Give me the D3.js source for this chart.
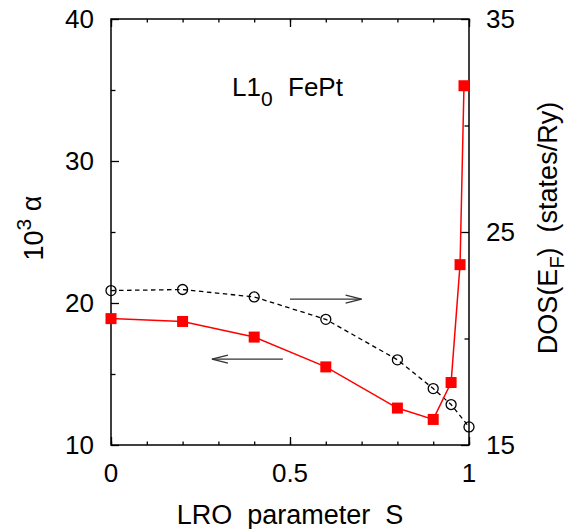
<!DOCTYPE html>
<html>
<head>
<meta charset="utf-8">
<script src="https://cdn.jsdelivr.net/npm/d3@7"></script>
<style>
  body { margin: 0; background: #fff; }
  svg { display: block; font-family: "Liberation Sans", Arial, sans-serif; }
</style>
</head>
<body>
<div id="chart"><svg width="570" height="529"></svg></div>
<script>
// data
const sAlpha = [0, 0.2, 0.4, 0.6, 0.8, 0.9, 0.95, 0.975, 0.986];
const alpha = [18.9, 18.7, 17.6, 15.5, 12.6, 11.8, 14.4, 22.7, 35.3];
const sDos = [0, 0.2, 0.4, 0.6, 0.8, 0.9, 0.95, 1];
const dos = [22.25, 22.3, 21.95, 20.9, 19.0, 17.65, 16.9, 15.85];

const xTicks = [0, 0.5, 1];
const yLeftTicks = [10, 20, 30, 40];
const yRightTicks = [15, 25, 35];

const svg = d3.select('#chart svg');

const L = 111, R = 469, T = 19, B = 445;

// scales
const scaleX = d3.scaleLinear().domain([0, 1]).range([L, R]);
const scaleYL = d3.scaleLinear().domain([10, 40]).range([B, T]);
const scaleYR = d3.scaleLinear().domain([15, 35]).range([B, T]);

const TICK_FONT = 26;
const TITLE_FONT = 27;

function styleAxis(g) {
  g.select('.domain').remove();
  g.selectAll('line').attr('stroke', '#000').attr('stroke-width', 1.3);
}

// bottom axis (minor + major)
svg.append('g')
  .attr('transform', `translate(0,${B})`)
  .call(d3.axisBottom(scaleX).tickValues(d3.range(0, 1.01, 0.1)).tickSize(-3.5).tickFormat(''))
  .call(styleAxis);
svg.append('g')
  .attr('transform', `translate(0,${B})`)
  .call(d3.axisBottom(scaleX).tickValues(xTicks).tickSize(-8).tickFormat(''))
  .call(styleAxis);

// top axis mirror ticks
svg.append('g')
  .attr('transform', `translate(0,${T})`)
  .call(d3.axisTop(scaleX).tickValues(d3.range(0, 1.01, 0.1)).tickSize(-3.5).tickFormat(''))
  .call(styleAxis);
svg.append('g')
  .attr('transform', `translate(0,${T})`)
  .call(d3.axisTop(scaleX).tickValues(xTicks).tickSize(-8).tickFormat(''))
  .call(styleAxis);

// left axis
svg.append('g')
  .attr('transform', `translate(${L},0)`)
  .call(d3.axisLeft(scaleYL).tickValues([15, 25, 35]).tickSize(-4.5).tickFormat(''))
  .call(styleAxis);
svg.append('g')
  .attr('transform', `translate(${L},0)`)
  .call(d3.axisLeft(scaleYL).tickValues(yLeftTicks).tickSize(-8).tickFormat(''))
  .call(styleAxis);

// right axis
svg.append('g')
  .attr('transform', `translate(${R},0)`)
  .call(d3.axisRight(scaleYR).tickValues([20, 30]).tickSize(-4.5).tickFormat(''))
  .call(styleAxis);
svg.append('g')
  .attr('transform', `translate(${R},0)`)
  .call(d3.axisRight(scaleYR).tickValues(yRightTicks).tickSize(-8).tickFormat(''))
  .call(styleAxis);

// tick labels
svg.append('g').selectAll('text')
  .data(xTicks)
  .join('text')
  .attr('x', d => scaleX(d))
  .attr('y', 482)
  .attr('text-anchor', 'middle')
  .style('font-size', TICK_FONT + 'px')
  .text(d => d);

svg.append('g').selectAll('text')
  .data(yLeftTicks)
  .join('text')
  .attr('x', 94)
  .attr('y', d => scaleYL(d))
  .attr('dy', '0.36em')
  .attr('text-anchor', 'end')
  .style('font-size', TICK_FONT + 'px')
  .text(d => d);

svg.append('g').selectAll('text')
  .data(yRightTicks)
  .join('text')
  .attr('x', 486)
  .attr('y', d => scaleYR(d))
  .attr('dy', '0.36em')
  .attr('text-anchor', 'start')
  .style('font-size', TICK_FONT + 'px')
  .text(d => d);

// frame
svg.append('rect')
  .attr('x', L).attr('y', T)
  .attr('width', R - L).attr('height', B - T)
  .attr('fill', 'none')
  .attr('stroke', '#000')
  .attr('stroke-width', 1.5);

// DOS dashed line + open circles
const dosPts = sDos.map((s, i) => [s, dos[i]]);
svg.append('path')
  .datum(dosPts)
  .attr('d', d3.line().x(d => scaleX(d[0])).y(d => scaleYR(d[1])))
  .attr('fill', 'none')
  .attr('stroke', '#000')
  .attr('stroke-width', 1.3)
  .attr('stroke-dasharray', '4.5,3.5');
svg.append('g').selectAll('circle')
  .data(dosPts)
  .join('circle')
  .attr('cx', d => scaleX(d[0]))
  .attr('cy', d => scaleYR(d[1]))
  .attr('r', 5)
  .attr('fill', 'none')
  .attr('stroke', '#000')
  .attr('stroke-width', 1.3);

// alpha red line + squares
const alphaPts = sAlpha.map((s, i) => [s, alpha[i]]);
svg.append('path')
  .datum(alphaPts)
  .attr('d', d3.line().x(d => scaleX(d[0])).y(d => scaleYL(d[1])))
  .attr('fill', 'none')
  .attr('stroke', '#ff0000')
  .attr('stroke-width', 1.5);
svg.append('g').selectAll('rect')
  .data(alphaPts)
  .join('rect')
  .attr('x', d => scaleX(d[0]) - 5.5)
  .attr('y', d => scaleYL(d[1]) - 5.5)
  .attr('width', 11)
  .attr('height', 11)
  .attr('fill', '#ff0000');

// arrows
function arrow(x1, x2, y) {
  const dir = Math.sign(x2 - x1);
  const g = svg.append('g')
    .attr('stroke', '#333')
    .attr('stroke-width', 1.3)
    .attr('fill', 'none');
  g.append('line').attr('x1', x1).attr('x2', x2).attr('y1', y).attr('y2', y);
  g.append('path').attr('d', `M${x2 - dir * 16},${y - 4}L${x2},${y}L${x2 - dir * 16},${y + 4}`);
}
arrow(scaleX(0.5), scaleX(0.7), scaleYR(21.85));
arrow(scaleX(0.48), scaleX(0.282), scaleYL(16.05));

// annotation
const ann = svg.append('text')
  .attr('x', 232)
  .attr('y', 96)
  .style('font-size', '26px');
ann.append('tspan').text('L1');
ann.append('tspan').attr('dy', 10).style('font-size', '21px').text('0');
ann.append('tspan').attr('dy', -10).attr('x', 288).text('FePt');

// axis titles
svg.append('text')
  .attr('x', 290)
  .attr('y', 524)
  .attr('text-anchor', 'middle')
  .style('font-size', TITLE_FONT + 'px')
  .style('white-space', 'pre')
  .text('LRO  parameter  S');

const yl = svg.append('text')
  .attr('transform', 'translate(43,228) rotate(-90)')
  .attr('text-anchor', 'middle')
  .style('font-size', TITLE_FONT + 'px')
  .style('white-space', 'pre');
yl.append('tspan').text('10');
yl.append('tspan').attr('dy', -12).style('font-size', '21px').text('3');
yl.append('tspan').attr('dy', 10).text(' \u03b1');

const yr = svg.append('text')
  .attr('transform', 'translate(557,228) rotate(-90)')
  .attr('text-anchor', 'middle')
  .style('font-size', TITLE_FONT + 'px')
  .style('white-space', 'pre');
yr.append('tspan').text('DOS(E');
yr.append('tspan').attr('dy', 7).style('font-size', '20px').text('F');
yr.append('tspan').attr('dy', -7).text(')  (states/Ry)');
</script>
</body>
</html>
